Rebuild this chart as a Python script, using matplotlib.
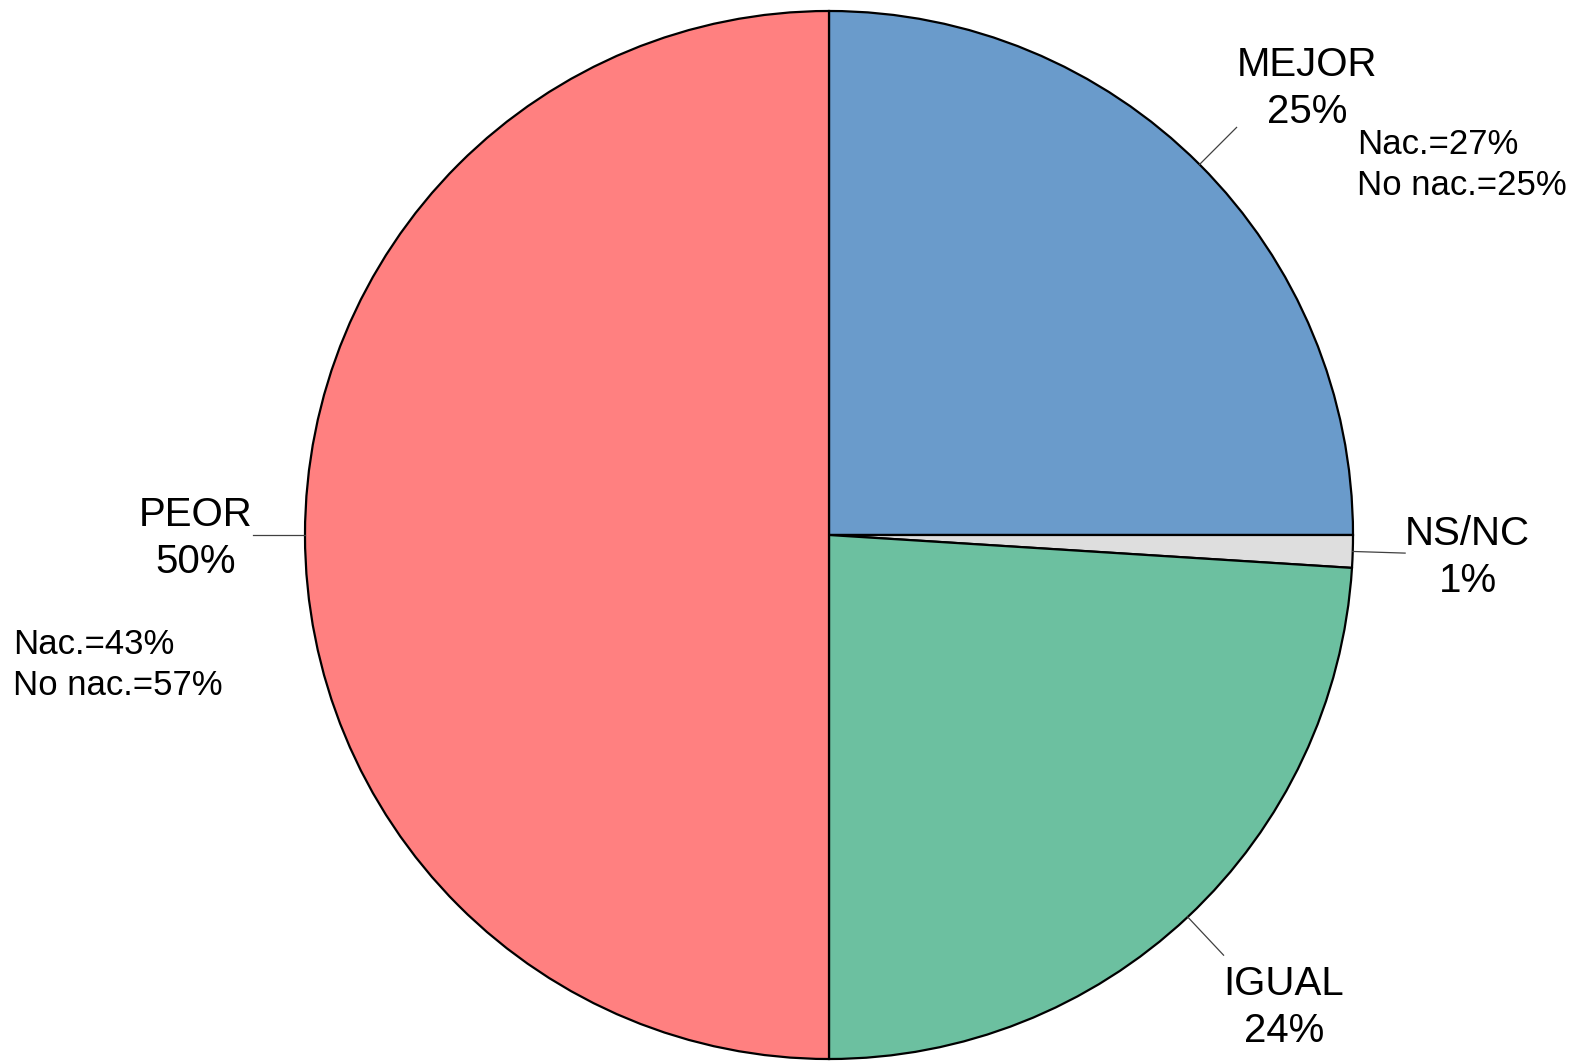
import numpy as np
import matplotlib
matplotlib.use('Agg')
import matplotlib.pyplot as plt

plt.rcParams['font.family'] = ['Liberation Sans', 'DejaVu Sans']

# datos
categorias = ['MEJOR', 'NS/NC', 'IGUAL', 'PEOR']
valores    = [25, 1, 24, 50]
colores    = ['#6A9BCB', '#DEDEDE', '#6CC0A0', '#FF8080']
notas      = ['Nac.=27%\nNo nac.=25%', 'Nac.=43%\nNo nac.=57%']

W, H = 1573, 1061
fig = plt.figure(figsize=(W / 100, H / 100), dpi=100)
ax = fig.add_axes([0, 0, 1, 1])

cx, cy, r = 829, H - 535, 524

wedges, _ = ax.pie(valores, colors=colores, startangle=90, counterclock=False,
                   center=(cx, cy), radius=r, frame=True,
                   wedgeprops=dict(edgecolor='black', linewidth=1.6))
ax.set_xlim(0, W)
ax.set_ylim(0, H)
ax.axis('off')

# etiquetas con líneas guía
for w, cat, val in zip(wedges, categorias, valores):
    ang = np.deg2rad((w.theta1 + w.theta2) / 2)
    c, s = np.cos(ang), np.sin(ang)
    x0, y0 = cx + r * c, cy + r * s
    x1, y1 = cx + 1.10 * r * c, cy + 1.10 * r * s
    ax.plot([x0, x1], [y0, y1], color='#404040', linewidth=0.9)
    ha = 'left' if c > 0.1 else ('right' if c < -0.1 else 'center')
    va = 'bottom' if s > 0.5 else ('top' if s < -0.5 else 'center')
    dy = -10 if va == 'top' else -4
    ax.text(x1, y1 + dy, f'{cat}\n{val}%', ha=ha, va=va, multialignment='center',
            fontsize=29, linespacing=1.3)

# notas Nac. / No nac.
ax.text(1357, H - 128, notas[0], ha='left', va='top', fontsize=25, linespacing=1.3)
ax.text(13, H - 628, notas[1], ha='left', va='top', fontsize=25, linespacing=1.3)

plt.savefig('out.png', dpi=100)
